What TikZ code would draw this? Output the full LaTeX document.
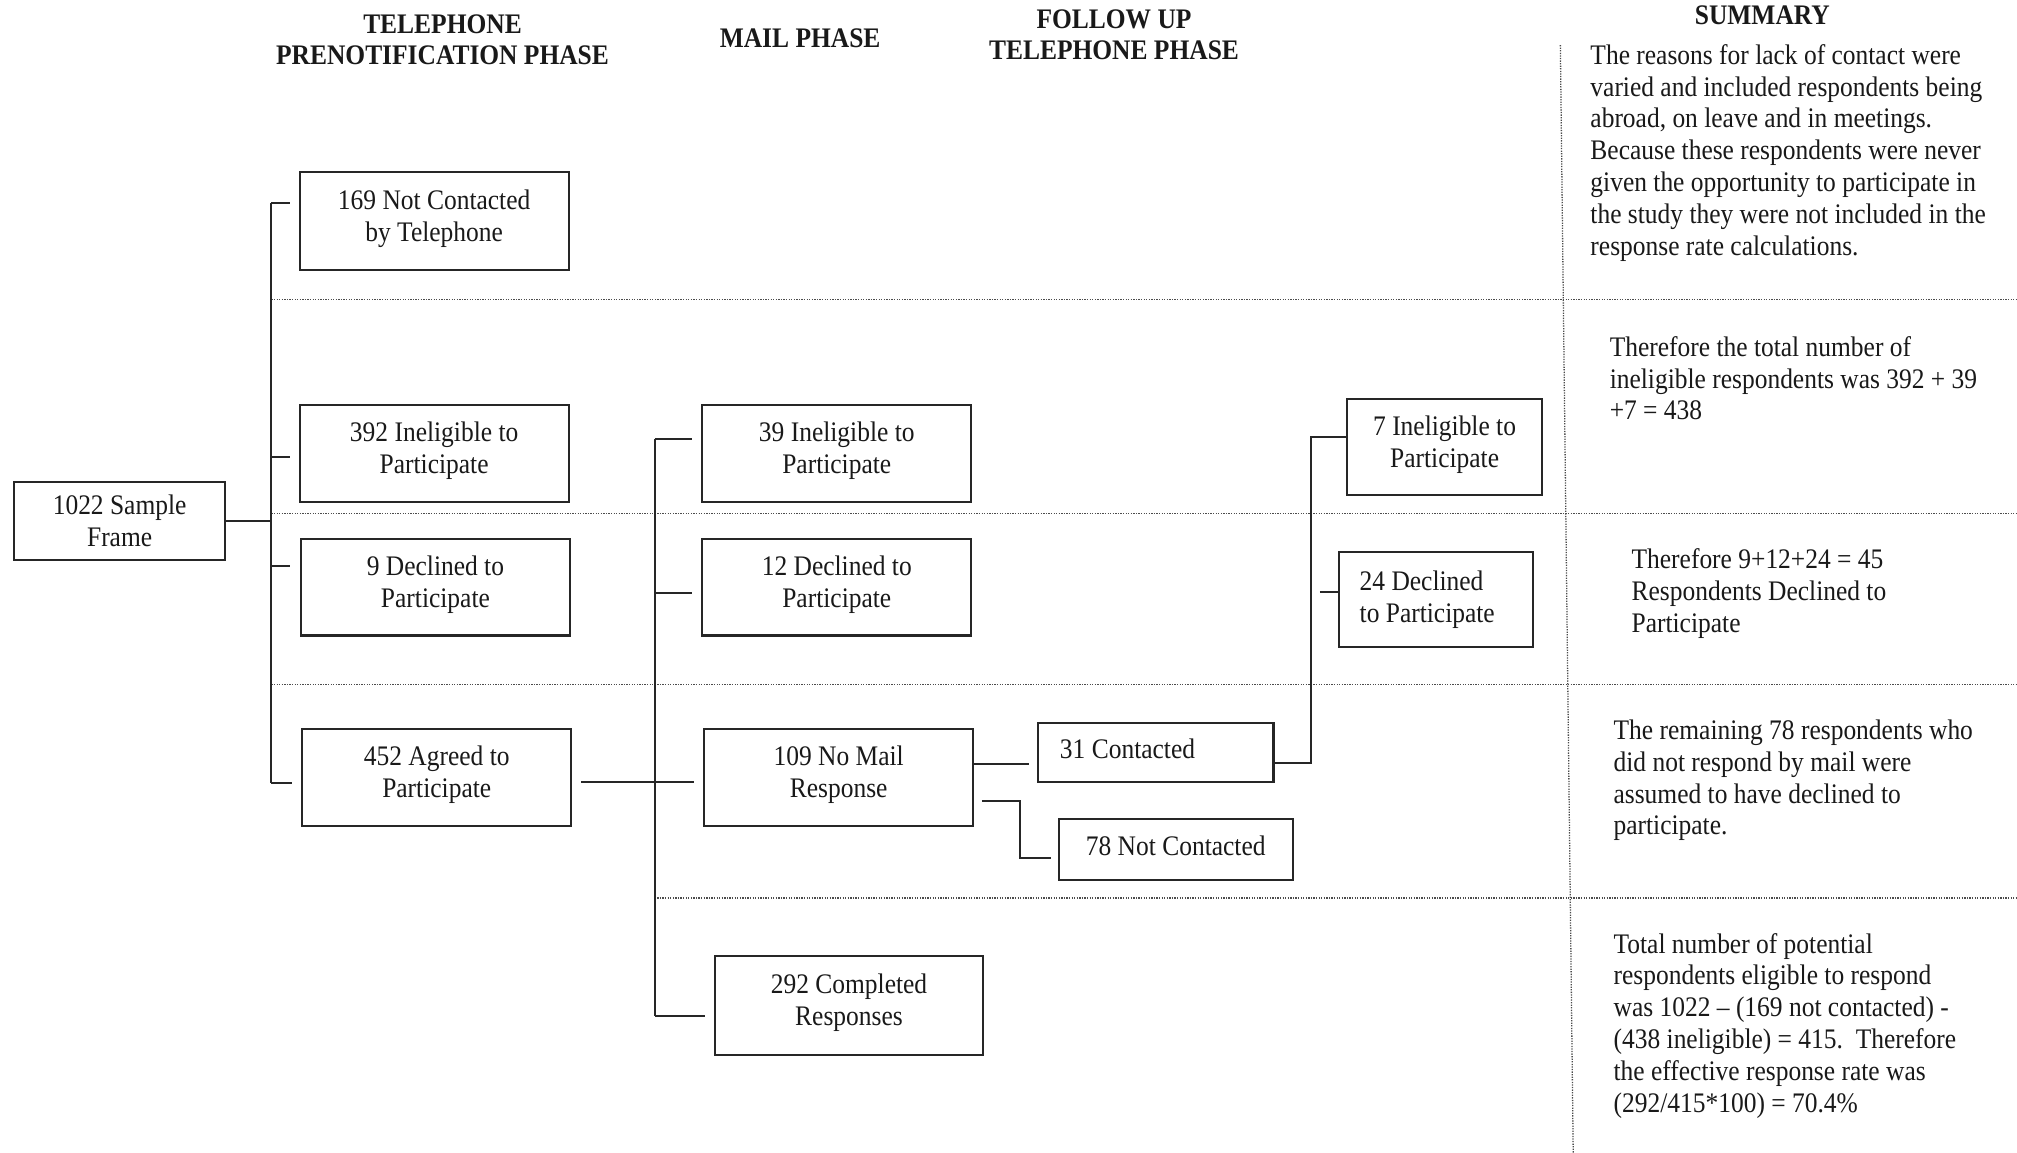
\documentclass[tikz,border=0pt]{standalone}
\usepackage{fontspec}
\setmainfont{Liberation Serif}[FakeStretch=0.9]
\begin{document}
\begin{tikzpicture}[x=0.5pt,y=-0.5pt,
  txt/.style={font=\fontsize{11pt}{12.4pt}\selectfont, text=black!90},
  box/.style={txt, draw=black!85, line width=0.8pt, align=center, inner sep=0pt,
    minimum width=104.5pt, minimum height=37.5pt},
  lift/.style={text depth=4.4pt},
  head/.style={font=\bfseries\fontsize{11pt}{12pt}\selectfont, text=black!90, align=center, inner sep=0pt},
  note/.style={txt, align=left, anchor=north west, inner sep=0pt},
  conn/.style={draw=black!85, line width=0.75pt},
  gap/.style={shorten >=3.5pt},
  grid/.style={draw=black!70, line width=0.5pt, dash pattern=on 0.5pt off 0.5pt}]

% canvas
\fill[white] (0,0) rectangle (1568,896);
\useasboundingbox (0,0) rectangle (1568,896);

% column headings
\node[head] (hd1) at (344,31) {TELEPHONE\\PRENOTIFICATION PHASE};
\node[head] (hd2) at (622,30) {MAIL PHASE};
\node[head] (hd3) at (866,27) {FOLLOW UP\\TELEPHONE PHASE};
\node[head] (hd4) at (1370,12) {SUMMARY};

% dotted row separators and summary column rule
\draw[grid] (211,233) -- (1568,233);
\draw[grid] (211,399) -- (1568,399);
\draw[grid] (211,532) -- (1568,532);
\draw[grid] (511,698) -- (1568,698);
\draw[grid] (1213,35) -- (1223,896);

% boxes
\node[box, minimum width=82pt, minimum height=30pt] (sf) at (93,405) {1022 Sample\\Frame};
\node[box, lift, minimum height=38pt] (nc169) at (337.5,172) {169 Not Contacted\\by Telephone};
\node[box, lift] (ie392) at (337.5,352.5) {392 Ineligible to\\Participate};
\node[box, lift] (dc9) at (338.5,456.5) {9 Declined to\\Participate};
\node[box, lift] (ag452) at (339.5,604.5) {452 Agreed to\\Participate};
\node[box, lift] (ie39) at (650.5,352.5) {39 Ineligible to\\Participate};
\node[box, lift] (dc12) at (650.5,456.5) {12 Declined to\\Participate};
\node[box, lift] (nm109) at (652,604.5) {109 No Mail\\Response};
\node[box, lift, minimum height=38.5pt] (cr292) at (660,781.5) {292 Completed\\Responses};
\node[box, align=flush left, text width=74.5pt, inner xsep=8.5pt, minimum width=91.5pt,
  minimum height=23pt, text depth=3pt] (ct31) at (898.5,585) {31 Contacted};
\node[box, minimum width=91pt, minimum height=23.5pt, text depth=3pt] (nc78) at (914,660.5) {78 Not Contacted};
\node[box, lift, minimum width=76pt] (ie7) at (1123,347.5) {7 Ineligible to\\Participate};
\node[box, align=flush left, text width=59.5pt, inner xsep=8pt, minimum width=75.5pt,
  minimum height=37pt] (dc24) at (1116.5,466) {24 Declined\\to Participate};

% junction points
\coordinate (tTop) at (211,158);
\coordinate (t392) at (211,355);
\coordinate (t9) at (211,440);
\coordinate (tBot) at (211,609);
\coordinate (m1) at (509,341);
\coordinate (m2) at (509,461);
\coordinate (m3) at (509,608);
\coordinate (m4) at (509,790);
\coordinate (b1) at (780,594);
\coordinate (b2) at (793,623);
\coordinate (b3) at (793,667);
\coordinate (c1) at (1019,593);
\coordinate (c2) at (1019,340);
\coordinate (c3) at (1019,460);

% prenotification branches
\draw[conn] (sf.east) -- (sf.east -| tTop);
\draw[conn] (tTop) -- (tBot);
\draw[conn, gap] (tTop) -- (tTop -| nc169.west);
\draw[conn, gap] (t392) -- (t392 -| ie392.west);
\draw[conn, shorten >=4pt] (t9) -- (t9 -| dc9.west);
\draw[conn, gap] (tBot) -- (tBot -| ag452.west);

% mail branches
\draw[conn, shorten <=3.5pt, gap] (m3 -| ag452.east) -- (m3 -| nm109.west);
\draw[conn] (m1) -- (m4);
\draw[conn, gap] (m1) -- (m1 -| ie39.west);
\draw[conn, gap] (m2) -- (m2 -| dc12.west);
\draw[conn, gap] (m4) -- (m4 -| cr292.west);

% follow-up telephone branches
\draw[conn, shorten >=3pt] (b1 -| nm109.east) -- (b1 -| ct31.west);
\draw[conn, shorten <=3pt, shorten >=2.5pt] (b2 -| nm109.east) -- (b2) -- (b3) -- (b3 -| nc78.west);
\draw[conn] (c1 -| ct31.east) -- (c1) -- (c2) -- (c2 -| ie7.west);
\draw[conn, shorten <=3.5pt] (c3) -- (c3 -| dc24.west);

% summary notes
\node[note] (p1) at (1236,34) {The reasons for lack of contact were\\varied and included respondents being\\abroad, on leave and in meetings.\\Because these respondents were never\\given the opportunity to participate in\\the study they were not included in the\\response rate calculations.};
\node[note] (p2) at (1251,261) {Therefore the total number of\\ineligible respondents was 392 + 39\\+7 = 438};
\node[note] (p3) at (1268,426) {Therefore 9+12+24 = 45\\Respondents Declined to\\Participate};
\node[note] (p4) at (1254,559) {The remaining 78 respondents who\\did not respond by mail were\\assumed to have declined to\\participate.};
\node[note] (p5) at (1254,725) {Total number of potential\\respondents eligible to respond\\was 1022 – (169 not contacted) -\\(438 ineligible) = 415.\ \ Therefore\\the effective response rate was\\(292/415*100) = 70.4\%};
\end{tikzpicture}
\end{document}
